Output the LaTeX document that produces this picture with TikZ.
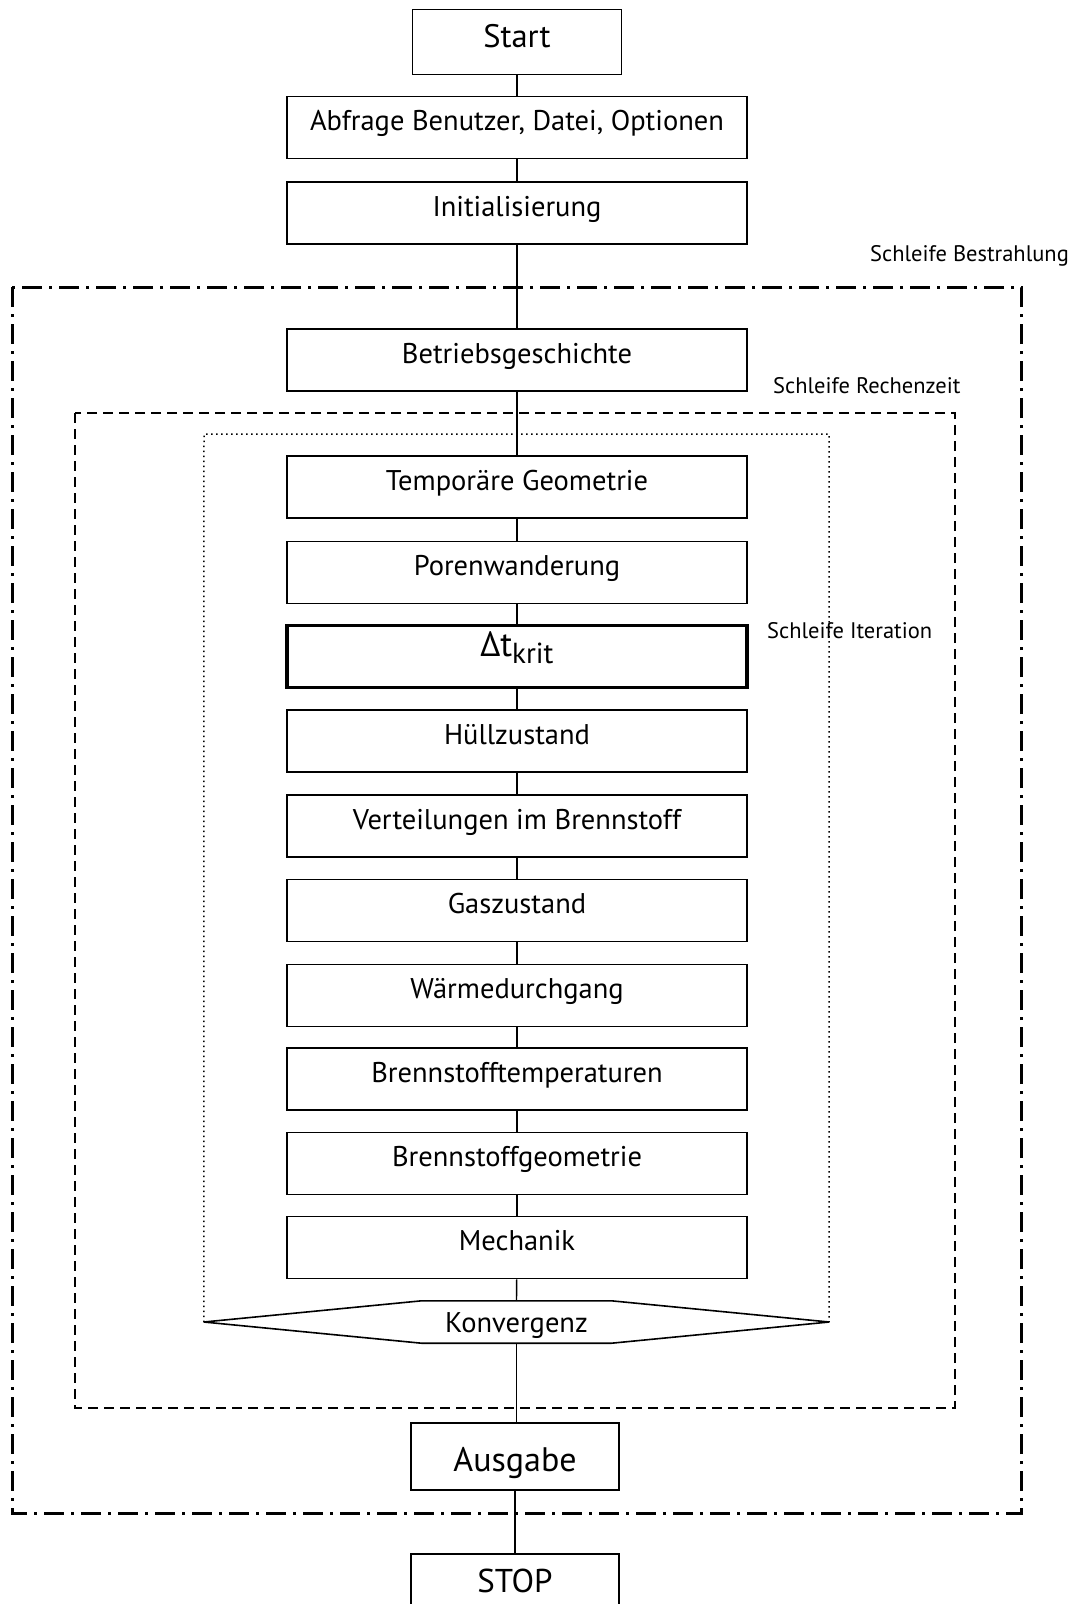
\documentclass[tikz,border=0pt]{standalone}
\usepackage{fontspec}
\setmainfont{PT Sans}
\begin{document}
\begin{tikzpicture}[x=1pt,y=-1pt,
  box/.style={draw, line width=1.6pt, minimum width=460pt, minimum height=62pt, inner sep=0pt,
    text height=15pt, text depth=9pt, font=\fontsize{28.5}{32}\selectfont},
  smallbox/.style={box, minimum width=209pt, minimum height=65pt, text height=17pt, text depth=7pt, font=\fontsize{32.5}{36}\selectfont},
  conn/.style={line width=1.4pt},
  looplbl/.style={anchor=west, inner sep=0pt, font=\fontsize{22.5}{26}\selectfont},
  outerloop/.style={line width=3pt, dash pattern=on 20pt off 7pt on 3pt off 7pt},
  midloop/.style={line width=1.5pt, dash pattern=on 10pt off 6pt},
  innerloop/.style={line width=1.5pt, dash pattern=on 1.5pt off 3.5pt}]
\useasboundingbox (0,0) rectangle (1073,1604);

% frames
\draw[outerloop] (12,287) rectangle (1021,1513);
\draw[midloop] (75,413) rectangle (955,1408);

\node[looplbl] (lblB) at (870,256) {Schleife Bestrahlung};
\node[looplbl] (lblR) at (773,386) {Schleife Rechenzeit};
\node[looplbl] (lblI) at (767,631) {Schleife Iteration};

% nodes
\node[smallbox] (start) at (517,42) {Start};
\node[box] (abfrage) at (517,127.5) {Abfrage Benutzer, Datei, Optionen};
\node[box] (init) at (517,213) {Initialisierung};
\node[box] (betrieb) at (517,360) {Betriebsgeschichte};
\node[box] (temp) at (517,487) {Temporäre Geometrie};
\node[box] (poren) at (517,572.5) {Porenwanderung};
\node[box, line width=3.5pt, text height=12pt, text depth=12pt, font=\fontsize{35}{38}\selectfont] (dt) at (517,656.5) {Δt\raisebox{-7pt}{\fontsize{29}{32}\selectfont krit}};
\node[box] (huell) at (517,741) {Hüllzustand};
\node[box] (vert) at (517,826) {Verteilungen im Brennstoff};
\node[box] (gas) at (517,910.5) {Gaszustand};
\node[box] (waerme) at (517,995.5) {Wärmedurchgang};
\node[box] (btemp) at (517,1079) {Brennstofftemperaturen};
\node[box] (bgeo) at (517,1163.5) {Brennstoffgeometrie};
\node[box] (mech) at (517,1247.5) {Mechanik};
\node[minimum width=625pt, minimum height=42pt, inner sep=0pt, text height=22pt, text depth=2pt, font=\fontsize{28.5}{32}\selectfont] (konv) at (516.5,1322) {Konvergenz};
\draw[line width=1.6pt] (konv.west) -- ([xshift=-95pt]konv.north) -- ([xshift=95pt]konv.north)
  -- (konv.east) -- ([xshift=95pt]konv.south) -- ([xshift=-95pt]konv.south) -- cycle;
\draw[innerloop] (konv.west) -- (204,434) -- (829,434) -- (konv.east);
\node[smallbox, minimum width=208pt, minimum height=67pt, text height=30pt, text depth=1pt, font=\fontsize{34}{38}\selectfont] (ausgabe) at (515,1456.5) {Ausgabe};
\node[smallbox, minimum width=208pt, minimum height=66pt, font=\fontsize{33}{36}\selectfont] (stop) at (515,1587) {STOP};

% connectors
\draw[conn] (start) -- (abfrage);
\draw[conn] (abfrage) -- (init);
\draw[conn] (init) -- (betrieb);
\draw[conn] (betrieb) -- (temp);
\draw[conn] (temp) -- (poren);
\draw[conn] (poren) -- (dt);
\draw[conn] (dt) -- (huell);
\draw[conn] (huell) -- (vert);
\draw[conn] (vert) -- (gas);
\draw[conn] (gas) -- (waerme);
\draw[conn] (waerme) -- (btemp);
\draw[conn] (btemp) -- (bgeo);
\draw[conn] (bgeo) -- (mech);
\draw[conn] (mech) -- (konv.north);
\draw[conn] (konv.south) -- (konv.south |- ausgabe.north);
\draw[conn] (ausgabe.south) -- (ausgabe.south |- stop.north);
\end{tikzpicture}
\end{document}
